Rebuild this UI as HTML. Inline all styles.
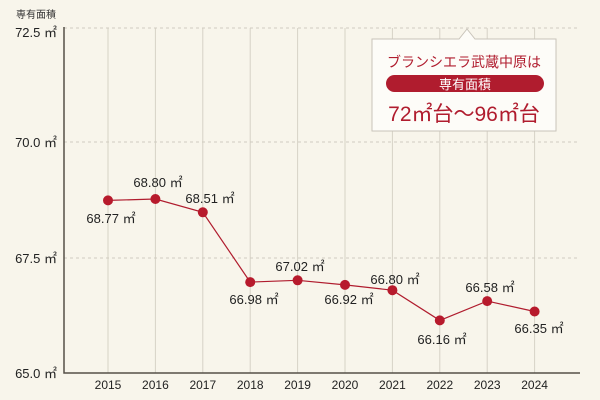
<!DOCTYPE html>
<html><head><meta charset="utf-8"><style>
body{margin:0;background:#f8f5eb;}
svg{display:block;font-family:"Liberation Sans","Noto Sans CJK JP",sans-serif;}
</style></head><body>
<svg width="600" height="400" viewBox="0 0 600 400">
<rect width="600" height="400" fill="#f8f5eb"/>
<g stroke="#d6d2c6" stroke-width="1">
<line x1="108" y1="28" x2="108" y2="373"/><line x1="155.4" y1="28" x2="155.4" y2="373"/>
<line x1="202.8" y1="28" x2="202.8" y2="373"/><line x1="250.2" y1="28" x2="250.2" y2="373"/>
<line x1="297.6" y1="28" x2="297.6" y2="373"/><line x1="345" y1="28" x2="345" y2="373"/>
<line x1="392.4" y1="28" x2="392.4" y2="373"/><line x1="439.8" y1="28" x2="439.8" y2="373"/>
<line x1="487.2" y1="28" x2="487.2" y2="373"/><line x1="534.6" y1="28" x2="534.6" y2="373"/>
</g>
<g stroke="#d0ccc0" stroke-dasharray="3,3">
<line x1="64" y1="28" x2="580" y2="28"/><line x1="64" y1="142" x2="580" y2="142"/><line x1="64" y1="258" x2="580" y2="258"/>
</g>
<polyline points="64,27 64,373 580,373" fill="none" stroke="#555048" stroke-width="1.5"/>
<g font-size="13" fill="#222" text-anchor="end">
<text x="57" y="37">72.5 ㎡</text><text x="57" y="147">70.0 ㎡</text><text x="57" y="263">67.5 ㎡</text><text x="57" y="378">65.0 ㎡</text>
</g>
<text x="16" y="18" font-size="10" fill="#333">専有面積</text>
<g font-size="12" fill="#222" text-anchor="middle">
<text x="108" y="389">2015</text><text x="155.4" y="389">2016</text><text x="202.8" y="389">2017</text><text x="250.2" y="389">2018</text><text x="297.6" y="389">2019</text><text x="345" y="389">2020</text><text x="392.4" y="389">2021</text><text x="439.8" y="389">2022</text><text x="487.2" y="389">2023</text><text x="534.6" y="389">2024</text>
</g>
<polyline fill="none" stroke="#b01c2e" stroke-width="1.2" points="108,200.4 155.4,199 202.8,212.3 250.2,282.1 297.6,280.3 345,284.9 392.4,290.2 439.8,320.4 487.2,301.1 534.6,311.5"/>
<g fill="#b71a2c">
<circle cx="108" cy="200.4" r="5"/><circle cx="155.4" cy="199" r="5"/><circle cx="202.8" cy="212.3" r="5"/><circle cx="250.2" cy="282.1" r="5"/><circle cx="297.6" cy="280.3" r="5"/><circle cx="345" cy="284.9" r="5"/><circle cx="392.4" cy="290.2" r="5"/><circle cx="439.8" cy="320.4" r="5"/><circle cx="487.2" cy="301.1" r="5"/><circle cx="534.6" cy="311.5" r="5"/>
</g>
<g font-size="13" fill="#222" text-anchor="middle">
<text x="111" y="223">68.77 ㎡</text><text x="158" y="187">68.80 ㎡</text><text x="210" y="203">68.51 ㎡</text>
<text x="254" y="304">66.98 ㎡</text><text x="300" y="271">67.02 ㎡</text><text x="349" y="304">66.92 ㎡</text>
<text x="395" y="284">66.80 ㎡</text><text x="442" y="344">66.16 ㎡</text><text x="490" y="292">66.58 ㎡</text><text x="539" y="333">66.35 ㎡</text>
</g>
<path d="M372,39 L459,39 L467,29 L475,39 L556,39 L556,131 L372,131 Z" fill="#fdfcf8" stroke="#c9c4ba" stroke-width="1"/>
<text x="464" y="67" font-size="14" fill="#b01c2e" text-anchor="middle">ブランシエラ武蔵中原は</text>
<rect x="386" y="75" width="158" height="17" rx="8.5" fill="#b01c2e"/>
<text x="465" y="89" font-size="13" fill="#fff" text-anchor="middle">専有面積</text>
<text x="464" y="121" font-size="21" fill="#b01c2e" text-anchor="middle">72㎡台～96㎡台</text>
</svg>
</body></html>
